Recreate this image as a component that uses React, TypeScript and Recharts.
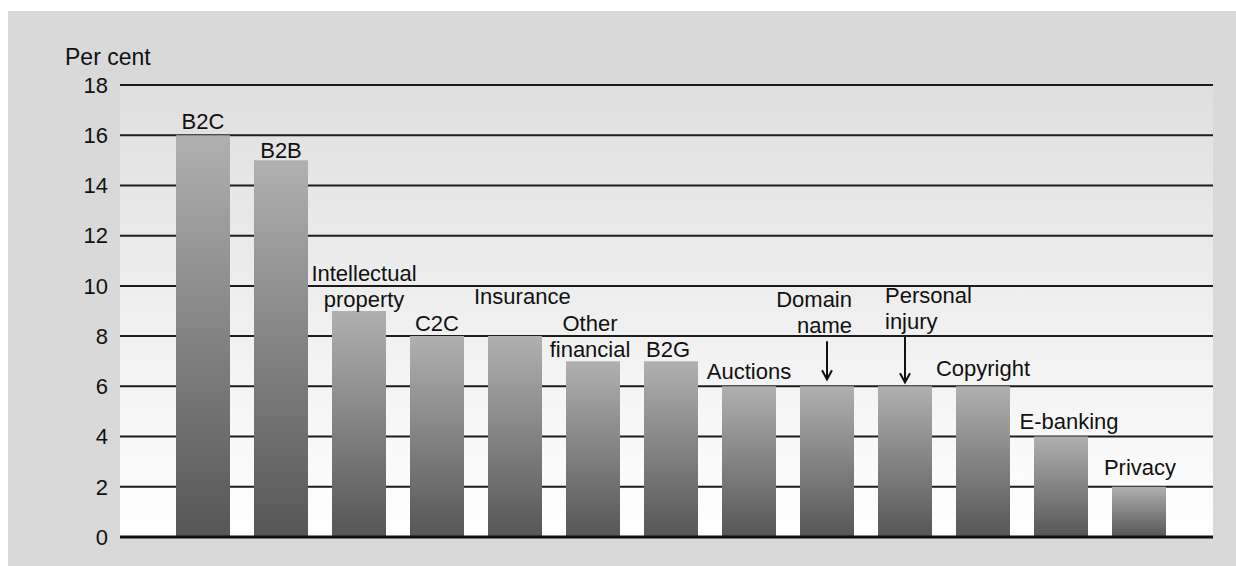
import {
  BarChart,
  Bar,
  XAxis,
  YAxis,
  CartesianGrid,
  ReferenceLine,
  LabelList,
} from "recharts";

const categories = [
  "B2C",
  "B2B",
  "Intellectual property",
  "C2C",
  "Insurance",
  "Other financial",
  "B2G",
  "Auctions",
  "Domain name",
  "Personal injury",
  "Copyright",
  "E-banking",
  "Privacy",
];
const shares = [16, 15, 9, 8, 8, 7, 7, 6, 6, 6, 6, 4, 2];
const yTicks = [0, 2, 4, 6, 8, 10, 12, 14, 16, 18];

const FONT = '"Liberation Sans", Arial, Helvetica, sans-serif';
const LINE_H = 25.5;

type Anchor = "start" | "middle" | "end";
interface LabelPlacement {
  anchor: Anchor;
  dx: number; // from bar centre
  dy: number; // centre of last line, from bar top
  arrow?: [number, number]; // arrow start/end, from bar top
}

// where each bar's caption sits relative to its bar
const placement: Record<string, LabelPlacement> = {
  B2C: { anchor: "middle", dx: 0, dy: -14 },
  B2B: { anchor: "middle", dx: 0, dy: -10 },
  "Intellectual property": { anchor: "middle", dx: 5, dy: -12 },
  C2C: { anchor: "middle", dx: 0, dy: -13 },
  Insurance: { anchor: "start", dx: -41, dy: -40 },
  "Other financial": { anchor: "middle", dx: -3, dy: -12 },
  B2G: { anchor: "middle", dx: -3, dy: -12 },
  Auctions: { anchor: "middle", dx: 0, dy: -15 },
  "Domain name": { anchor: "end", dx: 25, dy: -61, arrow: [-45, -7] },
  "Personal injury": { anchor: "start", dx: -20, dy: -65, arrow: [-51, -4] },
  Copyright: { anchor: "middle", dx: 0, dy: -18 },
  "E-banking": { anchor: "middle", dx: 8, dy: -15 },
  Privacy: { anchor: "middle", dx: 1, dy: -19 },
};

const data = categories.map((name, i) => ({ name, value: shares[i] }));

function BarCaption(props: any) {
  const { x, y, width, index } = props;
  const name = categories[index];
  const p = placement[name];
  const cx = Number(x) + Number(width) / 2;
  const top = Number(y);
  const lines = name.split(" ");
  const lastY = top + p.dy;
  return (
    <g>
      {lines.map((line, i) => (
        <text
          key={i}
          x={cx + p.dx}
          y={lastY - (lines.length - 1 - i) * LINE_H}
          textAnchor={p.anchor}
          dominantBaseline="central"
          fontFamily={FONT}
          fontSize={22}
          fill="#111"
        >
          {line}
        </text>
      ))}
      {p.arrow && (
        <path
          d={`M${cx},${top + p.arrow[0]} L${cx},${top + p.arrow[1]} M${cx - 5},${
            top + p.arrow[1] - 9
          } L${cx},${top + p.arrow[1]} L${cx + 5},${top + p.arrow[1] - 9}`}
          stroke="#111"
          strokeWidth={2}
          fill="none"
        />
      )}
    </g>
  );
}

export default function App() {
  return (
    <div
      style={{
        position: "absolute",
        left: 0,
        top: 0,
        width: 1236,
        height: 566,
        background: "#fff",
        overflow: "hidden",
      }}
    >
      <div
        style={{
          position: "absolute",
          left: 8,
          top: 11,
          width: 1228,
          height: 555,
          background: "#d9d9d9",
        }}
      />
      <div
        style={{
          position: "absolute",
          left: 65,
          top: 57,
          transform: "translateY(-50%)",
          fontFamily: FONT,
          fontSize: 23,
          color: "#111",
          lineHeight: 1,
        }}
      >
        Per cent
      </div>
      <div style={{ position: "absolute", left: 0, top: 0 }}>
        <BarChart
          width={1236}
          height={566}
          data={data}
          margin={{ top: 85, right: 23, bottom: 29, left: 60 }}
        >
          <defs>
            <linearGradient id="plotBg" x1="0" y1="0" x2="0" y2="1">
              <stop offset="0%" stopColor="#dfdfdf" />
              <stop offset="100%" stopColor="#ffffff" />
            </linearGradient>
            <linearGradient id="barFill" x1="0" y1="0" x2="0" y2="1">
              <stop offset="0%" stopColor="#b0b0b0" />
              <stop offset="100%" stopColor="#565656" />
            </linearGradient>
          </defs>
          <CartesianGrid
            vertical={false}
            stroke="#1c1c1c"
            strokeWidth={2}
            fill="url(#plotBg)"
            fillOpacity={1}
          />
          <XAxis
            dataKey="name"
            tick={false}
            tickLine={false}
            axisLine={false}
            height={0}
            padding={{ left: 44, right: 35 }}
          />
          <YAxis
            width={60}
            domain={[0, 18]}
            ticks={yTicks}
            interval={0}
            axisLine={false}
            tickLine={false}
            tickSize={0}
            tickMargin={12}
            tick={{ fontFamily: FONT, fontSize: 22, fill: "#111" }}
          />
          <Bar
            dataKey="value"
            fill="url(#barFill)"
            barSize={54}
            isAnimationActive={false}
          >
            <LabelList dataKey="value" content={BarCaption} />
          </Bar>
          <ReferenceLine y={0} stroke="#111" strokeWidth={3} />
        </BarChart>
      </div>
    </div>
  );
}
